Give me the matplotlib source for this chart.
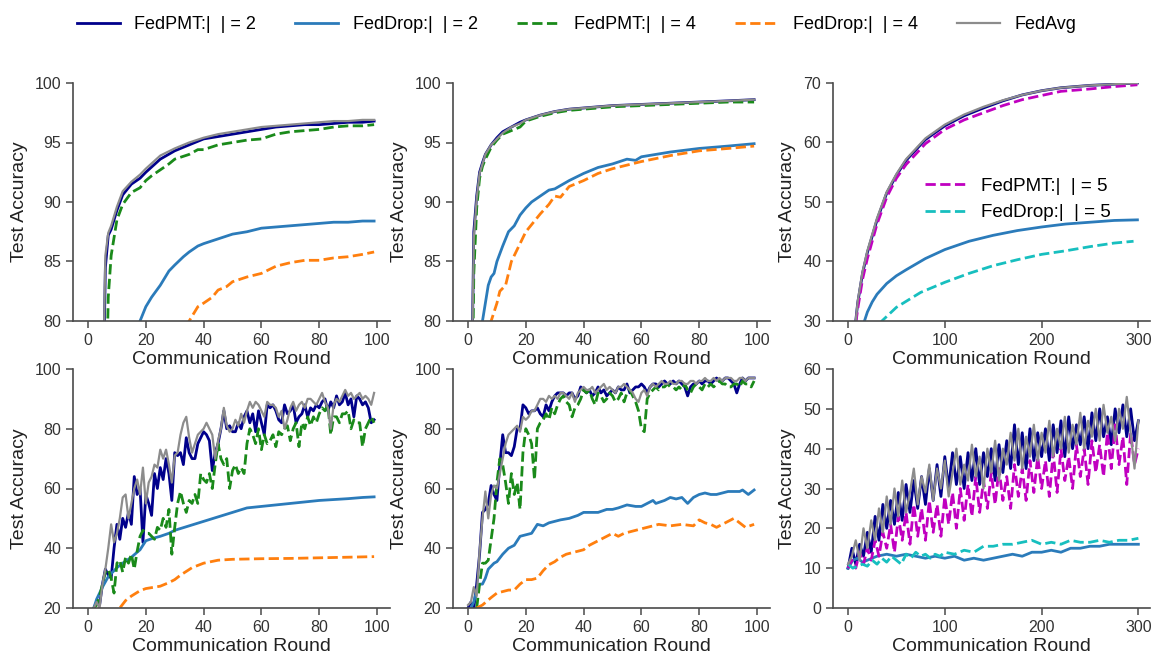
import numpy as np
import matplotlib
matplotlib.use('Agg')
import matplotlib.pyplot as plt

params = {
    'font.family': ['Liberation Sans', 'DejaVu Sans'],
    'axes.labelsize': 14,
    'xtick.labelsize': 11.5,
    'ytick.labelsize': 11.5,
    'lines.linewidth': 2,
    'axes.edgecolor': '#4a4a4a',
    'xtick.color': '#4a4a4a',
    'ytick.color': '#4a4a4a',
    'xtick.labelcolor': '#333333',
    'ytick.labelcolor': '#333333',
    'axes.labelcolor': '#222222',
}
plt.rcParams.update(params)

# labels
lab_pmt2 = 'FedPMT:|  | = 2'
lab_drop2 = 'FedDrop:|  | = 2'
lab_pmt4 = 'FedPMT:|  | = 4'
lab_drop4 = 'FedDrop:|  | = 4'
lab_avg = 'FedAvg'
lab_pmt5 = 'FedPMT:|  | = 5'
lab_drop5 = 'FedDrop:|  | = 5'

# ---- top-left panel
tl_x = [0, 5, 6, 7, 8, 10, 12, 15, 18, 20, 25, 30, 35, 40, 45, 50, 55, 60, 65, 70, 75, 80, 85, 90, 95, 99]
tl_pmt2 = [20, 70, 84.5, 87.2, 87.7, 89.3, 90.6, 91.5, 92.0, 92.5, 93.6, 94.3, 94.8, 95.3, 95.5, 95.7, 95.9, 96.1, 96.3, 96.4, 96.5, 96.5, 96.6, 96.7, 96.7, 96.8]
tl_avg = [20, 72, 85.5, 87.4, 88.0, 89.6, 90.9, 91.7, 92.3, 92.8, 93.9, 94.5, 95.0, 95.4, 95.7, 95.9, 96.1, 96.3, 96.4, 96.5, 96.6, 96.7, 96.8, 96.8, 96.9, 96.9]
tl_x_pmt4 = [0, 6, 7, 8, 10, 12, 15, 18, 20, 22, 25, 28, 30, 35, 38, 40, 45, 50, 55, 60, 65, 70, 75, 80, 85, 90, 95, 99]
tl_pmt4 = [20, 70, 82, 85.5, 88.5, 89.8, 90.8, 91.2, 91.8, 92.2, 92.7, 93.2, 93.6, 94.0, 94.4, 94.4, 94.8, 95.0, 95.2, 95.3, 95.7, 95.9, 96.0, 96.1, 96.3, 96.4, 96.4, 96.5]
tl_x_drop2 = [10, 18, 20, 22, 25, 28, 30, 33, 35, 38, 40, 45, 50, 55, 60, 65, 70, 75, 80, 85, 90, 95, 99]
tl_drop2 = [70, 80, 81.2, 82.0, 83.0, 84.2, 84.7, 85.4, 85.8, 86.3, 86.5, 86.9, 87.3, 87.5, 87.8, 87.9, 88.0, 88.1, 88.2, 88.3, 88.3, 88.4, 88.4]
tl_x_drop4 = [25, 35, 38, 40, 43, 45, 48, 50, 55, 60, 65, 70, 75, 80, 85, 90, 95, 99]
tl_drop4 = [75, 80, 81.2, 81.5, 82.0, 82.6, 82.9, 83.3, 83.7, 84.0, 84.6, 84.9, 85.1, 85.1, 85.3, 85.4, 85.6, 85.8]

# ---- top-middle panel
tm_x = [0, 1, 2, 3, 4, 5, 6, 8, 10, 12, 15, 18, 20, 25, 30, 35, 40, 50, 60, 70, 80, 90, 99]
tm_pmt2 = [40, 70, 87.5, 90.5, 92.5, 93.3, 94.0, 94.8, 95.4, 95.9, 96.3, 96.7, 96.9, 97.3, 97.6, 97.8, 97.9, 98.1, 98.2, 98.3, 98.4, 98.5, 98.6]
tm_avg = [40, 70, 87.0, 90.3, 92.4, 93.2, 94.0, 94.8, 95.3, 95.8, 96.3, 96.6, 96.9, 97.3, 97.6, 97.8, 97.9, 98.1, 98.2, 98.3, 98.4, 98.5, 98.6]
tm_pmt4 = [40, 65, 84, 89.5, 92.0, 93.0, 93.6, 94.6, 95.2, 95.7, 96.0, 96.3, 96.8, 97.2, 97.5, 97.7, 97.8, 98.0, 98.1, 98.2, 98.3, 98.4, 98.4]
tm_x_drop2 = [0, 5, 6, 7, 8, 9, 10, 12, 14, 16, 18, 20, 22, 25, 28, 30, 35, 40, 45, 50, 55, 58, 60, 65, 70, 80, 90, 99]
tm_drop2 = [60, 80, 81.5, 83.0, 83.7, 84.0, 85.0, 86.3, 87.5, 88.0, 88.9, 89.5, 90.0, 90.5, 91.0, 91.1, 91.8, 92.4, 92.9, 93.2, 93.6, 93.5, 93.8, 94.0, 94.2, 94.5, 94.7, 94.9]
tm_x_drop4 = [0, 8, 10, 11, 13, 15, 17, 20, 23, 25, 28, 30, 32, 35, 40, 45, 50, 55, 60, 70, 80, 90, 99]
tm_drop4 = [55, 80, 81.5, 82.5, 83.0, 85.0, 86.0, 87.5, 88.4, 89.0, 89.8, 90.5, 90.4, 91.3, 91.8, 92.4, 92.8, 93.1, 93.4, 93.9, 94.3, 94.5, 94.7]

# ---- top-right panel
tr_x = [0, 8, 10, 15, 20, 30, 40, 50, 60, 80, 100, 120, 140, 160, 180, 200, 220, 250, 275, 299]
tr_pmt2 = [10, 30, 33, 38, 41.5, 47, 51.5, 54.5, 57, 60.5, 62.8, 64.5, 65.8, 67, 68, 68.7, 69.2, 69.6, 69.8, 70.0]
tr_avg = [10, 30, 33.3, 38.3, 41.8, 47.3, 51.7, 54.7, 57.2, 60.7, 63.0, 64.7, 66.0, 67.1, 68.0, 68.7, 69.2, 69.6, 69.8, 70.0]
tr_pmt5 = [10, 29.5, 32, 37, 40.5, 46.3, 50.8, 54.0, 56.3, 59.8, 62.2, 63.8, 65.0, 66.2, 67.2, 67.9, 68.6, 69.0, 69.4, 69.7]
tr_x_drop2 = [0, 17, 20, 25, 30, 40, 50, 60, 80, 100, 125, 150, 175, 200, 225, 250, 275, 299]
tr_drop2 = [10, 30, 31.5, 33.2, 34.5, 36.3, 37.6, 38.6, 40.5, 42.0, 43.4, 44.4, 45.2, 45.8, 46.3, 46.6, 46.9, 47.0]
tr_x_drop5 = [20, 35, 50, 75, 100, 125, 150, 175, 200, 225, 250, 275, 295]
tr_drop5 = [25, 30, 32.3, 34.8, 36.5, 38.0, 39.3, 40.3, 41.2, 41.8, 42.5, 43.1, 43.4]

# ---- bottom-left panel (rounds 2..99)
bl_pmt2 = [20, 22, 21, 28, 33, 31, 30, 40, 48, 43, 50, 47, 52, 48, 64, 58, 60, 42, 58, 55,
           51, 65, 60, 67, 63, 70, 65, 56, 72, 71, 72, 68, 77, 72, 70, 70, 75, 77, 79, 78,
           76, 66, 72, 75, 80, 86, 80, 81, 79, 79, 82, 80, 84, 86, 82, 85, 79, 86, 82, 78,
           88, 87, 88, 86, 83, 82, 88, 85, 86, 88, 82, 84, 85, 88, 84, 87, 86, 88, 87, 89,
           90, 86, 89, 87, 91, 88, 89, 92, 88, 90, 84, 91, 90, 88, 89, 87, 82, 83]
bl_avg = [20, 22, 20, 28, 33, 40, 48, 42, 45, 50, 57, 58, 50, 55, 60, 63, 58, 67, 55, 62,
          64, 68, 67, 73, 70, 73, 68, 62, 71, 72, 78, 82, 84, 77, 72, 75, 78, 79, 80, 82,
          80, 78, 70, 76, 80, 87, 81, 79, 80, 83, 81, 85, 82, 86, 89, 87, 89, 88, 86, 84,
          89, 88, 88, 87, 84, 86, 80, 83, 87, 89, 86, 88, 89, 87, 90, 90, 89, 88, 90, 92,
          89, 87, 80, 88, 90, 89, 91, 93, 91, 92, 90, 91, 92, 90, 91, 90, 88, 92]
bl_pmt4 = [20, 21, 24, 28, 32, 33, 30, 25, 35, 36, 32, 37, 35, 38, 33, 39, 44, 46, 45, 45,
           44, 43, 47, 46, 50, 47, 53, 38, 47, 55, 59, 55, 52, 56, 55, 58, 55, 65, 63, 62,
           65, 60, 68, 75, 70, 68, 70, 60, 66, 68, 65, 67, 65, 75, 80, 78, 75, 80, 73, 78,
           75, 76, 78, 74, 79, 78, 80, 81, 76, 80, 82, 74, 82, 80, 84, 81, 84, 82, 85, 87,
           86, 88, 78, 84, 84, 82, 85, 85, 86, 80, 83, 82, 82, 74, 80, 82, 84, 82]
bl_x_drop2 = [2, 3, 5, 7, 10, 12, 15, 18, 20, 22, 25, 28, 30, 35, 40, 45, 50, 55, 60, 65, 70, 75, 80, 85, 90, 95, 99]
bl_drop2 = [20, 23, 27, 30.5, 33.5, 35, 37, 39.5, 42.5, 43.2, 44, 45, 46, 47.5, 49, 50.5, 52, 53.5, 54, 54.5, 55, 55.5, 56, 56.3, 56.6, 57, 57.2]
bl_x_drop4 = [0, 11, 13, 15, 18, 20, 25, 28, 30, 32, 36, 40, 45, 50, 60, 70, 80, 90, 99]
bl_drop4 = [10, 20, 22.5, 24, 25.8, 26.5, 27.3, 28.5, 29.5, 31, 33.5, 35, 36, 36.3, 36.5, 36.6, 36.8, 37, 37.2]

# ---- bottom-middle panel (rounds 0..99, FedPMT4 from round 3)
bm_pmt2 = [20, 22, 20, 28, 38, 52, 53, 55, 61, 58, 56, 68, 78, 72, 72, 71, 74, 80, 80, 88,
           87, 85, 86, 86, 87, 85, 84, 88, 86, 89, 91, 92, 92, 92, 91, 92, 92, 90, 91, 94,
           93, 92, 93, 91, 92, 94, 92, 93, 91, 92, 93, 92, 94, 93, 93, 95, 92, 93, 94, 94,
           95, 94, 92, 94, 95, 95, 94, 95, 96, 95, 95, 96, 95, 96, 95, 94, 91, 94, 95, 95,
           96, 95, 96, 96, 95, 96, 97, 96, 96, 97, 97, 96, 95, 92, 95, 97, 96, 97, 97, 97]
bm_avg = [21, 22, 27, 24, 39, 50, 59, 50, 58, 61, 60, 65, 70, 75, 78, 79, 80, 81, 79, 84,
          83, 84, 86, 86, 88, 90, 90, 89, 91, 90, 91, 90, 92, 92, 91, 90, 92, 89, 92, 93,
          94, 93, 93, 94, 92, 93, 94, 95, 93, 94, 93, 92, 94, 94, 95, 94, 93, 92, 90, 89,
          92, 93, 91, 94, 95, 94, 95, 96, 95, 95, 96, 95, 95, 96, 96, 95, 95, 96, 96, 95,
          96, 96, 97, 96, 96, 97, 96, 97, 96, 97, 97, 97, 96, 96, 97, 97, 96, 97, 97, 97]
bm_pmt4 = [20, 28, 35, 35, 36, 43, 50, 62, 70,
           68, 62, 55, 65, 58, 62, 53, 72, 80, 78,
           75, 63, 80, 82, 83, 85, 83, 87, 85, 88,
           90, 91, 89, 88, 84, 87, 88, 90, 93, 92,
           93, 90, 88, 92, 91, 89, 90, 92, 91, 89,
           90, 92, 89, 92, 93, 91, 89, 86, 80, 79,
           90, 92, 93, 94, 93, 94, 94, 95, 94, 94,
           93, 94, 93, 95, 93, 92, 94, 95, 94, 93,
           95, 94, 95, 94, 95, 96, 95, 95, 94, 94,
           95, 95, 94, 96, 95, 95, 94, 96]
bm_x_drop2 = [1, 2, 3, 4, 5, 6, 7, 8, 9, 10, 12, 14, 16, 18, 20, 22, 24, 26, 28, 30,
              32, 35, 38, 40, 43, 45, 48, 50, 52, 55, 58, 60, 62, 64, 65, 68, 70, 72, 74, 76,
              78, 80, 82, 84, 86, 88, 90, 92, 94, 95, 97, 99]
bm_drop2 = [20, 22, 26, 28, 28, 30, 33, 34, 35, 35.5, 38, 40, 41, 44, 44.5, 45, 48, 47.5, 48.5, 49,
            49.5, 50, 51, 52, 52, 52, 53, 53, 53.5, 54.5, 54, 54, 55, 56, 55, 56, 57, 56.5, 57, 55,
            57, 58, 58.5, 58, 58, 58.5, 59, 59, 59, 59.5, 58, 59.5]
bm_x_drop4 = [3, 5, 8, 10, 12, 14, 16, 18, 20, 22, 24, 26, 28, 30, 32, 34, 36, 38, 40, 42,
              44, 46, 48, 50, 52, 54, 56, 58, 60, 62, 64, 66, 70, 74, 78, 80, 82, 84, 86, 88,
              90, 92, 94, 96, 99]
bm_drop4 = [20, 21, 23.5, 25, 25.5, 26, 26, 28, 29.5, 29.5, 30, 32.5, 34.5, 35.5, 37, 38, 38.5, 39, 39.5, 41,
            42, 43, 44, 45, 44, 45, 45.5, 46, 46.5, 47, 47.5, 48, 47.5, 48, 47.5, 49.5, 48.5, 48, 47, 48,
            49, 50, 48.5, 47, 48]

# ---- bottom-right panel (every 4 rounds, 0..300)
br_pmt2 = [10, 15, 11, 16, 13, 19, 14, 23, 17, 26, 20, 27, 21, 29, 22, 31, 24, 32, 25, 33,
           26, 35, 27, 36, 28, 38, 30, 39, 31, 38, 30, 39, 32, 40, 31, 39, 33, 40, 32, 41,
           34, 42, 35, 46, 36, 44, 35, 45, 37, 44, 38, 45, 37, 46, 39, 47, 38, 48, 40, 46,
           41, 48, 40, 49, 42, 50, 43, 48, 41, 50, 44, 51, 43, 50, 42, 47]
br_avg = [11, 13, 17, 12, 20, 15, 22, 17, 25, 19, 28, 21, 30, 23, 32, 24, 29, 35, 26, 33,
          29, 36, 27, 35, 30, 37, 28, 34, 40, 31, 36, 32, 41, 33, 38, 30, 40, 34, 42, 32,
          40, 36, 44, 37, 45, 35, 43, 38, 46, 37, 44, 39, 47, 38, 45, 40, 48, 39, 46, 41,
          49, 40, 47, 43, 50, 42, 51, 44, 48, 42, 50, 45, 53, 44, 35, 47]
br_pmt5 = [10, 12, 10, 14, 11, 15, 12, 17, 13, 19, 15, 21, 14, 23, 17, 24, 16, 26, 18, 25,
           17, 27, 19, 26, 18, 28, 21, 29, 20, 30, 22, 31, 23, 33, 24, 32, 25, 34, 26, 35,
           27, 33, 25, 36, 28, 35, 27, 37, 29, 38, 30, 37, 28, 39, 29, 40, 32, 38, 30, 41,
           33, 40, 31, 42, 34, 41, 33, 44, 35, 46, 36, 43, 31, 44, 36, 40]
br_x_drop2 = [0, 5, 10, 15, 20, 30, 40, 50, 60, 70, 80, 90, 100, 110, 120, 130, 140, 150, 160, 170,
              180, 190, 200, 210, 220, 230, 240, 250, 260, 270, 280, 290, 300]
br_drop2 = [10, 12, 12.5, 11.5, 12, 13, 13.5, 13, 13.5, 13, 12.5, 13, 12.5, 13, 12, 12.5, 12, 12.5, 13, 13.5,
            13, 14, 14, 14.5, 14, 15, 15, 15.5, 15.5, 16, 16, 16, 16]
br_x_drop5 = [0, 5, 10, 15, 20, 25, 30, 35, 40, 45, 50, 55, 60, 65, 70, 75, 80, 85, 90, 95,
              100, 110, 120, 130, 140, 150, 160, 170, 180, 190, 200, 210, 220, 230, 240, 250, 260, 270, 280, 290, 300]
br_drop5 = [11, 10, 10.5, 11, 10.5, 12, 11, 12.5, 11.5, 13, 12, 11, 13.5, 12.5, 14, 13, 13.5, 12.5, 13.5, 13,
            14, 13.5, 14.5, 14, 15.5, 15.5, 16, 16, 16.5, 17, 16, 16.5, 16, 17, 16.5, 16.5, 17, 16.5, 17, 17, 17.5]

c_pmt2 = '#00008b'
c_drop2 = '#2b7bba'
c_pmt4 = '#1a8a1a'
c_drop4 = '#ff7f0e'
c_avg = '#8c8c8c'
c_pmt5 = '#c000c0'
c_drop5 = '#17bfbf'

fig = plt.figure(figsize=(11.53, 6.56), dpi=100)
W, H = 1153.0, 656.0
lefts = [73, 453, 833]
rows = [(83, 321), (369, 608)]
axs = []
for top, bot in rows:
    row = []
    for l in lefts:
        row.append(fig.add_axes([l / W, 1 - bot / H, 317 / W, (bot - top) / H]))
    axs.append(row)


def style(ax, xmax, ylim, yticks):
    for s in ['top', 'right']:
        ax.spines[s].set_visible(False)
    ax.spines['left'].set_linewidth(1.2)
    ax.spines['bottom'].set_linewidth(1.2)
    ax.tick_params(direction='out', length=5, width=1.1)
    if xmax == 100:
        ax.set_xlim(-5.2, 104.5)
        ax.set_xticks([0, 20, 40, 60, 80, 100])
    else:
        ax.set_xlim(-15.5, 312)
        ax.set_xticks([0, 100, 200, 300])
    ax.set_ylim(*ylim)
    ax.set_yticks(yticks)
    ax.set_xlabel('Communication Round', labelpad=2)
    ax.set_ylabel('Test Accuracy', labelpad=5)


# top-left
ax = axs[0][0]
ax.plot(tl_x, tl_pmt2, color=c_pmt2, label=lab_pmt2)
ax.plot(tl_x_drop2, tl_drop2, color=c_drop2, label=lab_drop2)
ax.plot(tl_x_pmt4, tl_pmt4, '--', color=c_pmt4, label=lab_pmt4)
ax.plot(tl_x_drop4, tl_drop4, '--', color=c_drop4, label=lab_drop4)
ax.plot(tl_x, tl_avg, color=c_avg, lw=1.6, label=lab_avg)
style(ax, 100, (80, 100), [80, 85, 90, 95, 100])

# top-middle
ax = axs[0][1]
ax.plot(tm_x, tm_pmt2, color=c_pmt2)
ax.plot(tm_x_drop2, tm_drop2, color=c_drop2)
ax.plot(tm_x, tm_pmt4, '--', color=c_pmt4)
ax.plot(tm_x_drop4, tm_drop4, '--', color=c_drop4)
ax.plot(tm_x, tm_avg, color=c_avg, lw=1.6)
style(ax, 100, (80, 100), [80, 85, 90, 95, 100])

# top-right
ax = axs[0][2]
ax.plot(tr_x, tr_pmt2, color=c_pmt2)
ax.plot(tr_x_drop2, tr_drop2, color=c_drop2)
l5a, = ax.plot(tr_x, tr_pmt5, '--', color=c_pmt5, label=lab_pmt5)
l5b, = ax.plot(tr_x_drop5, tr_drop5, '--', color=c_drop5, label=lab_drop5)
ax.plot(tr_x, tr_avg, color=c_avg, lw=1.6)
style(ax, 300, (30, 70), [30, 40, 50, 60, 70])
ax.legend(handles=[l5a, l5b], loc='center right', bbox_to_anchor=(0.93, 0.51),
          frameon=False, fontsize=13.5, handlelength=2.2)

# bottom-left
ax = axs[1][0]
ax.plot(np.arange(2, 2 + len(bl_pmt2)), bl_pmt2, color=c_pmt2)
ax.plot(bl_x_drop2, bl_drop2, color=c_drop2)
ax.plot(np.arange(2, 2 + len(bl_pmt4)), bl_pmt4, '--', color=c_pmt4)
ax.plot(bl_x_drop4, bl_drop4, '--', color=c_drop4)
ax.plot(np.arange(2, 2 + len(bl_avg)), bl_avg, color=c_avg, lw=1.6)
style(ax, 100, (20, 100), [20, 40, 60, 80, 100])

# bottom-middle
ax = axs[1][1]
ax.plot(np.arange(len(bm_pmt2)), bm_pmt2, color=c_pmt2)
ax.plot(bm_x_drop2, bm_drop2, color=c_drop2)
ax.plot(np.arange(3, 3 + len(bm_pmt4)), bm_pmt4, '--', color=c_pmt4)
ax.plot(bm_x_drop4, bm_drop4, '--', color=c_drop4)
ax.plot(np.arange(len(bm_avg)), bm_avg, color=c_avg, lw=1.6)
style(ax, 100, (20, 100), [20, 40, 60, 80, 100])

# bottom-right
ax = axs[1][2]
ax.plot(np.arange(0, 4 * len(br_pmt2), 4), br_pmt2, color=c_pmt2)
ax.plot(br_x_drop2, br_drop2, color=c_drop2)
ax.plot(np.arange(0, 4 * len(br_pmt5), 4), br_pmt5, '--', color=c_pmt5)
ax.plot(br_x_drop5, br_drop5, '--', color=c_drop5)
ax.plot(np.arange(0, 4 * len(br_avg), 4), br_avg, color=c_avg, lw=1.6)
style(ax, 300, (0, 60), [0, 10, 20, 30, 40, 50, 60])

h, l = axs[0][0].get_legend_handles_labels()
fig.legend(h, l, loc='upper center', bbox_to_anchor=(0.5, 1.0), ncol=5,
           frameon=False, fontsize=13, handlelength=2.4, columnspacing=2.15)

fig.savefig('out.png', dpi=100)
